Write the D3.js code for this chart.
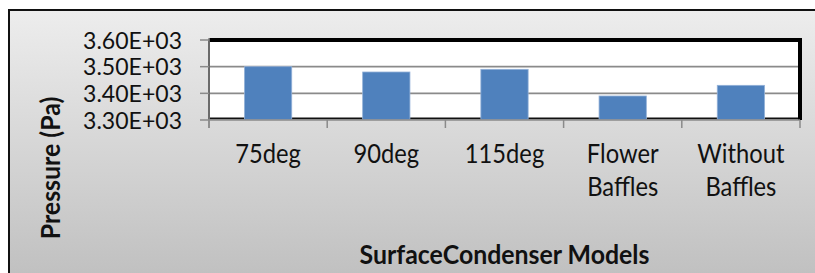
<!DOCTYPE html>
<html><head><meta charset="utf-8">
<script src="https://cdn.jsdelivr.net/npm/d3@7"></script>
<style>html,body{margin:0;padding:0;background:#fff;}svg{display:block}</style>
</head><body>
<svg id="c" width="815" height="273"></svg>
<script>
// ---- data ----
const categories = ["75deg", "90deg", "115deg", "Flower Baffles", "Without Baffles"];
const categoryLines = [["75deg"], ["90deg"], ["115deg"], ["Flower", "Baffles"], ["Without", "Baffles"]];
const pressure = [3500, 3480, 3490, 3390, 3430];
const yTicks = [3300, 3400, 3500, 3600];
const yTickLabels = ["3.30E+03", "3.40E+03", "3.50E+03", "3.60E+03"];
const xTitle = "SurfaceCondenser Models";
const yTitle = "Pressure (Pa)";

// ---- layout ----
const W = 815, H = 273;
const plot = {l: 209, r: 800, t: 40, b: 120};
const FONT = "Lato, 'Open Sans', 'Liberation Sans', sans-serif";

const svg = d3.select("#c");
const defs = svg.append("defs");
const grad = defs.append("linearGradient").attr("id", "bg").attr("x1", 0).attr("y1", 0).attr("x2", 0).attr("y2", 1);
grad.append("stop").attr("offset", "0%").attr("stop-color", "#ededed");
grad.append("stop").attr("offset", "100%").attr("stop-color", "#bfbfbf");

// outer chart area
svg.append("rect").attr("x", 9).attr("y", 10).attr("width", W).attr("height", H)
  .attr("fill", "url(#bg)");
svg.append("line").attr("x1", 9).attr("x2", 9).attr("y1", 9).attr("y2", H).attr("stroke", "#111").attr("stroke-width", 2);
svg.append("line").attr("x1", 8).attr("x2", W).attr("y1", 10).attr("y2", 10).attr("stroke", "#111").attr("stroke-width", 2);

// scales
const x = d3.scaleBand().domain(categories).range([plot.l, plot.r]).paddingInner(0.6).paddingOuter(0.3);
const y = d3.scaleLinear().domain([3300, 3600]).range([plot.b, plot.t]);
const step = x.step();
const boundaries = d3.range(categories.length + 1).map(i => plot.l + i * step);

// plot area
svg.append("rect").attr("x", plot.l).attr("y", y(3600) - 1).attr("width", plot.r - plot.l).attr("height", plot.b - y(3600) + 1)
  .attr("fill", "#fff");

// gridlines
svg.append("g").selectAll("line").data(yTicks.filter(v => v > 3300)).join("line")
  .attr("x1", plot.l).attr("x2", plot.r).attr("y1", d => y(d)).attr("y2", d => y(d))
  .attr("stroke", "#8a8a8a").attr("stroke-width", 1.6);

// plot border (black, thicker on top and right)
svg.append("rect").attr("x", plot.l).attr("y", y(3600)).attr("width", plot.r - plot.l).attr("height", plot.b - 1.5 - y(3600))
  .attr("fill", "none").attr("stroke", "#111").attr("stroke-width", 2);
svg.append("line").attr("x1", plot.l).attr("x2", plot.r + 2).attr("y1", y(3600)).attr("y2", y(3600))
  .attr("stroke", "#000").attr("stroke-width", 4);
svg.append("line").attr("x1", plot.r).attr("x2", plot.r).attr("y1", y(3600) - 2).attr("y2", plot.b)
  .attr("stroke", "#000").attr("stroke-width", 4);

// bars
svg.append("g").selectAll("rect").data(pressure).join("rect")
  .attr("x", (d, i) => x(categories[i]))
  .attr("width", x.bandwidth())
  .attr("y", d => y(d))
  .attr("height", d => y(3300) - y(d) - 0.5)
  .attr("fill", "#4f81bd")
  .attr("stroke", "#93b1d8").attr("stroke-width", 0.8);

// axes lines and ticks
const axisCol = "#8a8a8a";
svg.append("line").attr("x1", plot.l).attr("x2", plot.r).attr("y1", plot.b).attr("y2", plot.b)
  .attr("stroke", axisCol).attr("stroke-width", 1.5);
svg.append("line").attr("x1", plot.l).attr("x2", plot.l).attr("y1", y(3600) - 2).attr("y2", plot.b + 8)
  .attr("stroke", axisCol).attr("stroke-width", 1.5);
svg.append("g").selectAll("line").data(boundaries).join("line")
  .attr("x1", d => d).attr("x2", d => d).attr("y1", plot.b).attr("y2", plot.b + 8)
  .attr("stroke", axisCol).attr("stroke-width", 1.5);
svg.append("g").selectAll("line").data(yTicks).join("line")
  .attr("x1", plot.l - 9).attr("x2", plot.l).attr("y1", d => y(d)).attr("y2", d => y(d))
  .attr("stroke", axisCol).attr("stroke-width", 1.5);

// helpers for condensed text
function measure(str, size, weight) {
  const t = svg.append("text").attr("font-family", FONT).attr("font-size", size).attr("font-weight", weight).text(str);
  const w = t.node().getComputedTextLength();
  t.remove();
  return w;
}

// y tick labels
const tickSize = 24;
const fTick = 99 / measure("3.60E+03", tickSize, 400);
svg.append("g").selectAll("g").data(yTicks).join("g")
  .attr("transform", d => `translate(182,${y(d)}) scale(${fTick},1)`)
  .append("text").attr("font-family", FONT).attr("font-size", tickSize).attr("fill", "#111")
  .attr("text-anchor", "end").attr("dy", "0.36em")
  .text((d, i) => yTickLabels[i]);

// category labels
const catSize = 26.5;
const fCat = 65.7 / measure("75deg", catSize, 400);
const cat = svg.append("g").selectAll("g").data(categories).join("g")
  .attr("transform", d => `translate(${x(d) + x.bandwidth() / 2},163) scale(${fCat},1)`)
  .append("text").attr("font-family", FONT).attr("font-size", catSize).attr("fill", "#111")
  .attr("text-anchor", "middle");
cat.selectAll("tspan").data((d, i) => categoryLines[i]).join("tspan")
  .attr("x", 0).attr("y", (d, j) => j * 33.5).text(d => d);

// x title
const titleSize = 26;
const fX = 290 / measure(xTitle, titleSize, 700);
svg.append("g").attr("transform", `translate(${(plot.l + plot.r) / 2},264) scale(${fX},1)`)
  .append("text").attr("font-family", FONT).attr("font-size", titleSize).attr("font-weight", 700)
  .attr("fill", "#111").attr("text-anchor", "middle").text(xTitle);

// y title
const fY = 142.6 / measure(yTitle, titleSize, 700);
svg.append("g").attr("transform", `translate(60,168) rotate(-90) scale(${fY},1)`)
  .append("text").attr("font-family", FONT).attr("font-size", titleSize).attr("font-weight", 700)
  .attr("fill", "#111").attr("text-anchor", "middle").text(yTitle);
</script>
</body></html>
